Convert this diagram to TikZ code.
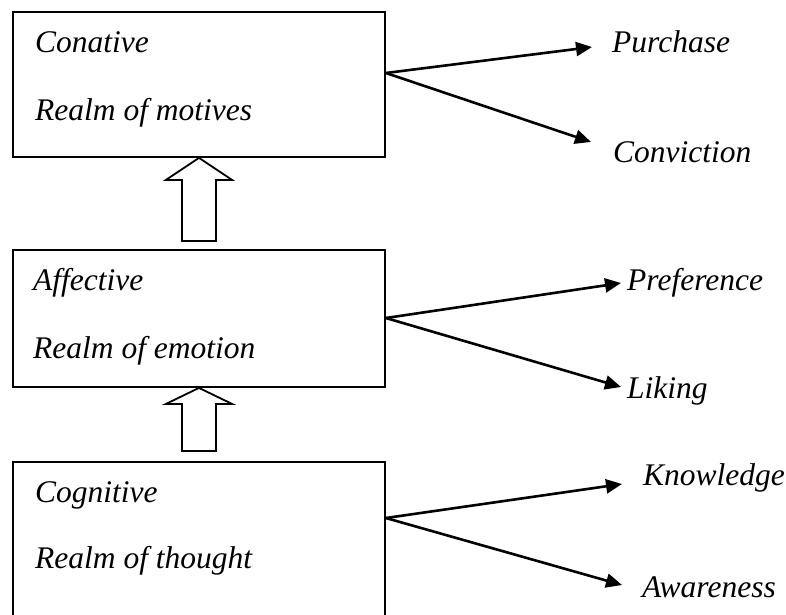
\documentclass[tikz,border=0pt]{standalone}
\usepackage{fontspec}
\setmainfont{Liberation Serif}
\usetikzlibrary{arrows.meta,calc}
\begin{document}
\begin{tikzpicture}[x=1pt,y=-1pt,
  box/.style={draw,line width=1.8pt,inner sep=0pt},
  lbl/.style={anchor=base west,inner sep=0pt,font=\fontsize{31.5}{38}\selectfont\itshape},
  conn/.style={line width=2.6pt,-{Triangle[length=16pt,width=14pt]}},
  hollow/.style={draw,line width=1.8pt,fill=white,line join=miter}]
\useasboundingbox (0,0) rectangle (786,614);
\clip (0,0) rectangle (786,614);
% boxes
\node[box,minimum width=372pt,minimum height=145pt] (b1) at (199,84.5) {};
\node[box,minimum width=372pt,minimum height=137pt] (b2) at (199,318.5) {};
\node[box,minimum width=372pt,minimum height=180pt] (b3) at (199,552) {};
% box texts
\node[lbl] (t1a) at (35,52) {Conative};
\node[lbl] (t1b) at (35,120) {Realm of motives};
\node[lbl] (t2a) at (33,290) {Affective};
\node[lbl] (t2b) at (33,358) {Realm of emotion};
\node[lbl] (t3a) at (35,502) {Cognitive};
\node[lbl] (t3b) at (35,568) {Realm of thought};
% right labels
\node[lbl] (p) at (612,52) {Purchase};
\node[lbl] (c) at (613,162) {Conviction};
\node[lbl] (pr) at (627,290) {Preference};
\node[lbl] (l) at (627,398) {Liking};
\node[lbl] (k) at (643,485) {Knowledge};
\node[lbl] (a) at (642,597) {Awareness};
% connector anchors
\coordinate (s1) at (b1.east |- 0,73);
\coordinate (s2) at (b2.east |- 0,318);
\coordinate (s3) at (b3.east |- 0,518);
\coordinate (pe) at (592,47);
\coordinate (ce) at (591,142);
\coordinate (pre) at (621,283);
\coordinate (le) at (621,387);
\coordinate (ke) at (622,484);
\coordinate (ae) at (622,585);
\draw[conn] (s1) -- (pe);
\draw[conn] (s1) -- (ce);
\draw[conn] (s2) -- (pre);
\draw[conn] (s2) -- (le);
\draw[conn] (s3) -- (ke);
\draw[conn] (s3) -- (ae);
% hollow arrows
\path[hollow] (b1.south) -- ++(33,22) -- ++(-16,0) -- ++(0,61) -- ++(-34,0) -- ++(0,-61) -- ++(-16,0) -- cycle;
\path[hollow] (b2.south) -- ++(33,16) -- ++(-16,0) -- ++(0,47) -- ++(-34,0) -- ++(0,-47) -- ++(-16,0) -- cycle;
\end{tikzpicture}
\end{document}
